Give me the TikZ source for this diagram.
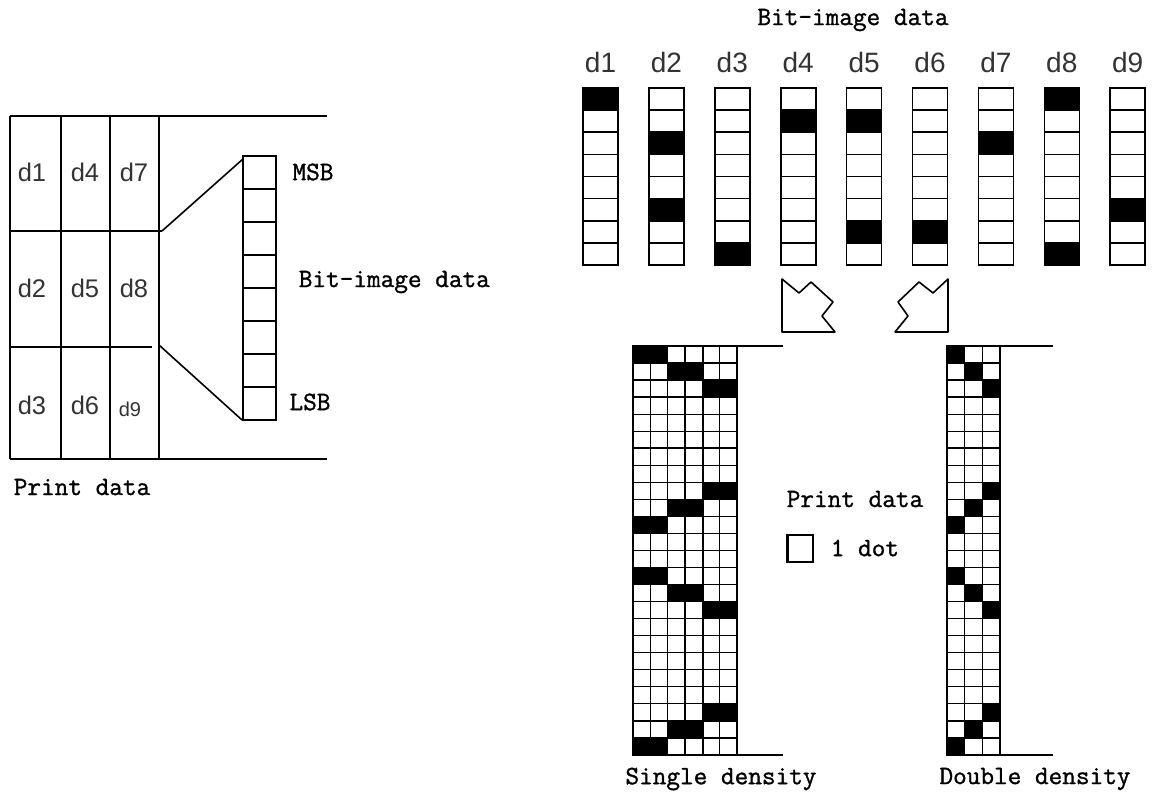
\documentclass[tikz,border=0pt]{standalone}
\usepackage{fontspec}
\setmainfont{Liberation Sans}
\newfontfamily\monofont{Latin Modern Mono}[FakeBold=1.2]
\begin{document}
\begin{tikzpicture}[x=1pt,y=-1pt,line width=1.6pt,
  mono/.style={font=\monofont\fontsize{26.5}{26.5}\selectfont,inner sep=0pt},
  dleft/.style={font=\fontsize{25.5}{25.5}\selectfont,inner sep=0pt,text=black!80},
  dtop/.style={font=\fontsize{28}{28}\selectfont,inner sep=0pt,text=black!80},
  thickline/.style={line width=2.6pt},
  cellfill/.style={fill=black},
  arrowshape/.style={line width=1.6pt,line join=round}]
\useasboundingbox (0,0) rectangle (1153,794);

% ---------------- left part: print data ----------------
\draw (10,116) -- (327,116);
\draw (10,459) -- (327,459);
\draw (10,116) -- (10,459);
\draw (61,116) -- (61,459);
\draw[thickline] (110,116) -- (110,459);
\draw (159,116) -- (159,459);
\draw (10,231) -- (162,231);
\draw (10,347) -- (152,347);

\node[dleft] (L1) at (32,172) {d1};
\node[dleft] (L4) at (85,172) {d4};
\node[dleft] (L7) at (134,172) {d7};
\node[dleft] (L2) at (32,288) {d2};
\node[dleft] (L5) at (85,288) {d5};
\node[dleft] (L8) at (134,288) {d8};
\node[dleft] (L3) at (32,405) {d3};
\node[dleft] (L6) at (85,405) {d6};
\node[dleft,font=\fontsize{20}{20}\selectfont] (L9) at (130,409) {d9};

% bit column
\draw (243,156) rectangle (276,420);
\draw[thickline] (243,156) -- (276,156);
\foreach \k in {1,...,7} \draw (243,{156+33*\k}) -- (276,{156+33*\k});
\coordinate (bt) at (243,159);
\coordinate (bb) at (242,420);
\coordinate (pt) at (162,231);
\coordinate (pb) at (159,345);
\draw (pt) -- (bt);
\draw (pb) -- (bb);

\node[mono] (msb) at (313,172) {MSB};
\node[mono] (lsb) at (310,402) {LSB};
\node[mono,anchor=west] (bid1) at (298,282) {Bit-image data};
\node[mono,anchor=west] (pd1) at (13,487) {Print data};

% ---------------- top right: bit-image data ----------------
\node[mono] (bid2) at (853,20) {Bit-image data};
\foreach \i in {1,...,9}
  \node[dtop] (T\i) at ({583+65.9*(\i-1)+17.5},62) {d\i};
\foreach \c/\r in {0/0,1/2,1/5,2/7,3/1,4/1,4/6,5/6,6/2,7/0,7/7,8/5}
  \fill[cellfill] ({583+65.9*\c},{88+22.125*\r}) rectangle ({583+65.9*\c+35},{88+22.125*(\r+1)});
\foreach \c in {0,...,8}{
  \draw ({583+65.9*\c},88) rectangle ({583+65.9*\c+35},265);
  \foreach \r in {1,...,7}
    \draw ({583+65.9*\c},{88+22.125*\r}) -- ({583+65.9*\c+35},{88+22.125*\r});
}

% ---------------- arrows ----------------
\draw[arrowshape] (782,279) -- (799,293) -- (811,282) -- (833,302) -- (822,316) -- (835,332) -- (782,332) -- cycle;
\draw[thickline] (782,332) -- (835,332);
\draw[arrowshape] (948,279) -- (933,293) -- (919,282) -- (898,302) -- (908,316) -- (895,332) -- (948,332) -- cycle;
\draw[thickline] (895,332) -- (948,332);

% ---------------- single density grid ----------------
\foreach \p/\r in {0/0,0/10,0/13,0/23,1/1,1/9,1/14,1/22,2/2,2/8,2/15,2/21}
  \fill[cellfill] ({633+34.67*\p},{346+17.04*\r}) rectangle ({633+34.67*(\p+1)},{346+17.04*(\r+1)});
\foreach \k in {0,...,6}
  \draw[line width=1.3pt] ({633+17.33*\k},346) -- ({633+17.33*\k},755);
\foreach \k in {0,...,24}
  \draw[line width=1.3pt] (633,{346+17.04*\k}) -- (737,{346+17.04*\k});
\draw[line width=2.2pt] (703,346) -- (703,755);
\draw[line width=2.2pt] (633,{346+17.04*6}) -- (737,{346+17.04*6});
\draw[line width=1.8pt] (633,346) rectangle (737,755);
\draw (737,346) -- (783,346);
\draw (737,755) -- (783,755);
\node[mono] (sd) at (721,779) {Single density};

% ---------------- double density grid ----------------
\foreach \p/\r in {0/0,0/10,0/13,0/23,1/1,1/9,1/14,1/22,2/2,2/8,2/15,2/21}
  \fill[cellfill] ({947+17.67*\p},{346+17.04*\r}) rectangle ({947+17.67*(\p+1)},{346+17.04*(\r+1)});
\foreach \k in {0,...,3}
  \draw[line width=1.3pt] ({947+17.67*\k},346) -- ({947+17.67*\k},755);
\foreach \k in {0,...,24}
  \draw[line width=1.3pt] (947,{346+17.04*\k}) -- (1000,{346+17.04*\k});
\draw[line width=2.2pt] (947,{346+17.04*6}) -- (1000,{346+17.04*6});
\draw[line width=1.8pt] (947,346) rectangle (1000,755);
\draw (1000,346) -- (1053,346);
\draw (1000,755) -- (1053,755);
\node[mono] (dd) at (1035,779) {Double density};

% ---------------- legend ----------------
\node[mono] (pd2) at (855,499) {Print data};
\node[draw,line width=1.6pt,minimum width=25pt,minimum height=27pt,inner sep=0pt] (dot) at (800.5,548.5) {};
\draw[thickline] (dot.north west) -- (dot.south west);
\node[mono,anchor=west] (onedot) at (830,548) {1 dot};
\end{tikzpicture}
\end{document}
